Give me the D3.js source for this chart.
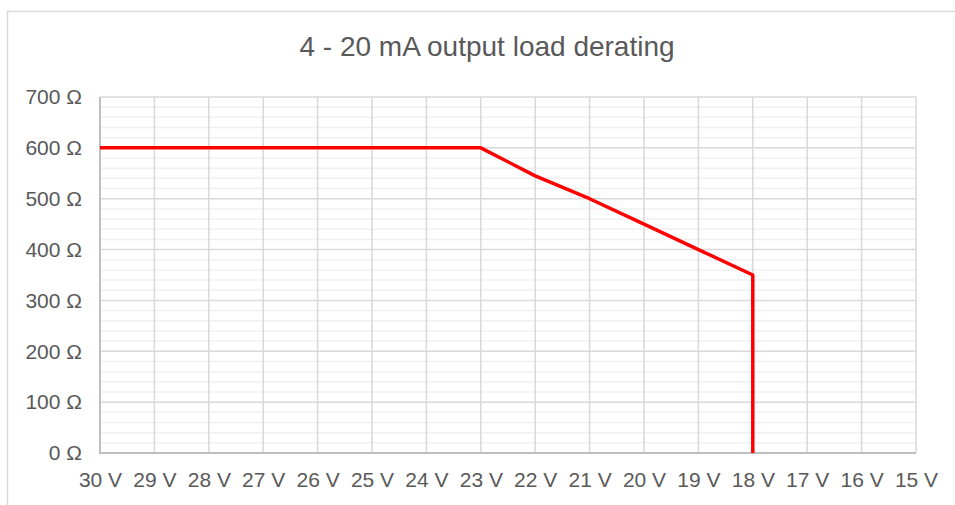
<!DOCTYPE html>
<html>
<head>
<meta charset="utf-8">
<script src="https://cdn.jsdelivr.net/npm/d3@7"></script>
<style>
  html, body { margin: 0; padding: 0; background: #ffffff; }
  svg { display: block; }
  text { font-family: "Liberation Sans", Arial, sans-serif; fill: #595959; }
</style>
</head>
<body>
<svg id="chart" width="955" height="505"></svg>
<script>
// Supply voltage (V) and the maximum loop load (Ω) allowed at that voltage
const supplyVoltage = [30, 23, 22, 21, 20, 19, 18, 18];
const maxLoad = [600, 600, 545, 500, 450, 400, 350, 0];

// Axis ticks
const voltageTicks = [30, 29, 28, 27, 26, 25, 24, 23, 22, 21, 20, 19, 18, 17, 16, 15];
const loadTicks = [0, 100, 200, 300, 400, 500, 600, 700];
const loadMinorTicks = d3.range(0, 701, 20);

const chartTitle = "4 - 20 mA output load derating";

const svg = d3.select("#chart");
const plot = { left: 100, right: 916, top: 97, bottom: 453 };

// Outer chart frame
svg.append("rect")
  .attr("x", 7.5).attr("y", 11.5)
  .attr("width", 965).attr("height", 505)
  .attr("fill", "#ffffff")
  .attr("stroke", "#d9d9d9")
  .attr("stroke-width", 1.5);

const x = d3.scaleLinear().domain([30, 15]).range([plot.left, plot.right]);
const y = d3.scaleLinear().domain([0, 700]).range([plot.bottom, plot.top]);

// Minor horizontal gridlines
svg.append("g")
  .selectAll("line")
  .data(loadMinorTicks.filter(v => v % 100 !== 0))
  .join("line")
  .attr("x1", plot.left).attr("x2", plot.right)
  .attr("y1", d => y(d)).attr("y2", d => y(d))
  .attr("stroke", "#f0f0f0")
  .attr("stroke-width", 1.5);

// Major horizontal gridlines
svg.append("g")
  .selectAll("line")
  .data(loadTicks.filter(v => v > 0))
  .join("line")
  .attr("x1", plot.left).attr("x2", plot.right)
  .attr("y1", d => y(d)).attr("y2", d => y(d))
  .attr("stroke", "#d9d9d9")
  .attr("stroke-width", 1.5);

// Vertical gridlines
svg.append("g")
  .selectAll("line")
  .data(voltageTicks.slice(1))
  .join("line")
  .attr("x1", d => x(d)).attr("x2", d => x(d))
  .attr("y1", plot.top).attr("y2", plot.bottom)
  .attr("stroke", "#d9d9d9")
  .attr("stroke-width", 1.5);

// Axis lines (left and bottom)
svg.append("line")
  .attr("x1", plot.left).attr("x2", plot.left)
  .attr("y1", plot.top).attr("y2", plot.bottom + 1)
  .attr("stroke", "#bfbfbf").attr("stroke-width", 2);
svg.append("line")
  .attr("x1", plot.left - 1).attr("x2", plot.right)
  .attr("y1", plot.bottom).attr("y2", plot.bottom)
  .attr("stroke", "#bfbfbf").attr("stroke-width", 2);

// Y axis labels
const yAxis = d3.axisLeft(y)
  .tickValues(loadTicks)
  .tickSize(0)
  .tickPadding(18)
  .tickFormat(d => d + " Ω");
const gy = svg.append("g")
  .attr("transform", `translate(${plot.left},0)`)
  .call(yAxis);
gy.select(".domain").remove();
gy.selectAll("text")
  .attr("font-size", 21)
  .attr("font-family", "Liberation Sans, Arial, sans-serif")
  .attr("fill", "#595959");

// X axis labels
const xAxis = d3.axisBottom(x)
  .tickValues(voltageTicks)
  .tickSize(0)
  .tickPadding(19)
  .tickFormat(d => d + " V");
const gx = svg.append("g")
  .attr("transform", `translate(0,${plot.bottom})`)
  .call(xAxis);
gx.select(".domain").remove();
gx.selectAll("text")
  .attr("font-size", 21)
  .attr("font-family", "Liberation Sans, Arial, sans-serif")
  .attr("fill", "#595959");

// Derating curve
const line = d3.line()
  .x((d, i) => x(supplyVoltage[i]))
  .y((d, i) => y(maxLoad[i]));
svg.append("path")
  .datum(supplyVoltage)
  .attr("d", line)
  .attr("fill", "none")
  .attr("stroke", "#ff0000")
  .attr("stroke-width", 3.5)
  .attr("stroke-linejoin", "round");

// Title
svg.append("text")
  .attr("x", 487)
  .attr("y", 56)
  .attr("text-anchor", "middle")
  .attr("font-size", 28)
  .text(chartTitle);
</script>
</body>
</html>
